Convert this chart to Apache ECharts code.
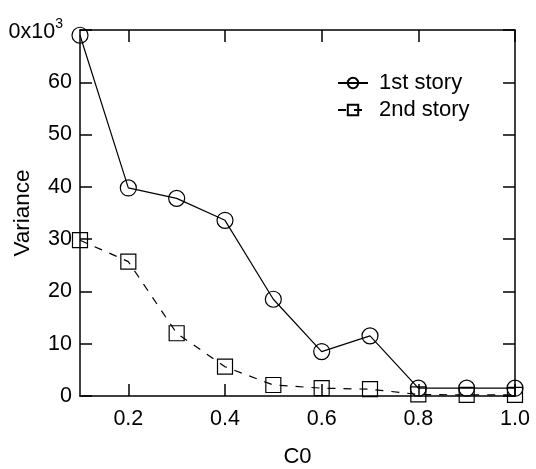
<!DOCTYPE html>
<html>
<head>
<meta charset="utf-8">
<script src="https://cdn.jsdelivr.net/npm/echarts@6/dist/echarts.min.js"></script>
<style>html,body{margin:0;padding:0;background:#fff}#c{width:536px;height:469px}</style>
</head>
<body>
<div id="c"></div>
<script>
const c0 = [0.1, 0.2, 0.3, 0.4, 0.5, 0.6, 0.7, 0.8, 0.9, 1.0];
const story1 = [69.0, 39.8, 37.8, 33.6, 18.5, 8.5, 11.5, 1.5, 1.5, 1.5];
const story2 = [29.8, 25.7, 12.0, 5.6, 2.1, 1.5, 1.3, 0.3, 0.2, 0.2];
const xTickValues = [0.2, 0.4, 0.6, 0.8, 1.0];
const xTickLabels = ['0.2', '0.4', '0.6', '0.8', '1.0'];
const yTickValues = [0, 10, 20, 30, 40, 50, 60, 70];
const yTickLabels = ['0', '10', '20', '30', '40', '50', '60', '{t|0x10}{s|3}'];

const font = 'Liberation Sans, Arial, sans-serif';
const chart = echarts.init(document.getElementById('c'), null, {renderer: 'canvas'});
const axisLine = {show: true, onZero: false, lineStyle: {color: '#000', width: 1.5}};
const tick = {show: true, inside: true, length: 12, lineStyle: {color: '#000', width: 1.5}};
chart.setOption({
  animation: false,
  backgroundColor: '#fff',
  grid: {left: 80, right: 21, top: 30, bottom: 73, containLabel: false, outerBoundsMode: 'none'},
  legend: {
    orient: 'vertical', left: 332, top: 67, itemGap: 5, itemWidth: 30, itemHeight: 13,
    textStyle: {fontFamily: font, fontSize: 22, color: '#000', padding: [0, 0, 0, 6]},
    data: ['1st story', '2nd story']
  },
  xAxis: [{
    type: 'value', min: 0.1, max: 1.0, position: 'bottom',
    name: 'C0', nameLocation: 'middle', nameGap: 50, nameMoveOverlap: false,
    nameTextStyle: {fontFamily: font, fontSize: 22, color: '#000'},
    axisLine: axisLine,
    axisTick: Object.assign({}, tick, {customValues: xTickValues}),
    axisLabel: {customValues: xTickValues, formatter: v => xTickLabels[xTickValues.findIndex(t => Math.abs(t - v) < 1e-6)], fontFamily: font, fontSize: 21.5, color: '#000', margin: 12},
    splitLine: {show: false}
  }, {
    type: 'value', min: 0.1, max: 1.0, position: 'top',
    axisLine: axisLine,
    axisTick: Object.assign({}, tick, {customValues: xTickValues}),
    axisLabel: {show: false}, splitLine: {show: false}
  }],
  yAxis: [{
    type: 'value', min: 0, max: 70, interval: 10, position: 'left',
    name: 'Variance', nameLocation: 'middle', nameGap: 46, nameRotate: 90, nameMoveOverlap: false,
    nameTextStyle: {fontFamily: font, fontSize: 22.5, color: '#000'},
    axisLine: axisLine, axisTick: tick,
    axisLabel: {
      formatter: v => yTickLabels[yTickValues.indexOf(Math.round(v))],
      fontFamily: font, fontSize: 21.5, color: '#000', margin: 8,
      rich: {
        t: {fontFamily: font, fontSize: 21.5, color: '#000', padding: [5, 0, 0, 0]},
        s: {fontFamily: font, fontSize: 14, color: '#000', verticalAlign: 'bottom', padding: [0, 9, 12, 0]}
      }
    },
    splitLine: {show: false}
  }, {
    type: 'value', min: 0, max: 70, interval: 10, position: 'right',
    axisLine: axisLine, axisTick: tick, axisLabel: {show: false}, splitLine: {show: false}
  }],
  series: [{
    name: '1st story', type: 'line', data: c0.map((x, i) => [x, story1[i]]),
    symbol: 'circle', symbolSize: 16, clip: false,
    itemStyle: {color: 'rgba(255,255,255,0)', borderColor: '#000', borderWidth: 1.2},
    lineStyle: {color: '#000', width: 1.2, type: 'solid'},
    z: 3
  }, {
    name: '2nd story', type: 'line', data: c0.map((x, i) => [x, story2[i]]),
    symbol: 'rect', symbolSize: 15, clip: false,
    itemStyle: {color: 'rgba(255,255,255,0)', borderColor: '#000', borderWidth: 1.2},
    lineStyle: {color: '#000', width: 1.2, type: [8, 8]},
    z: 2
  }]
});
</script>
</body>
</html>
